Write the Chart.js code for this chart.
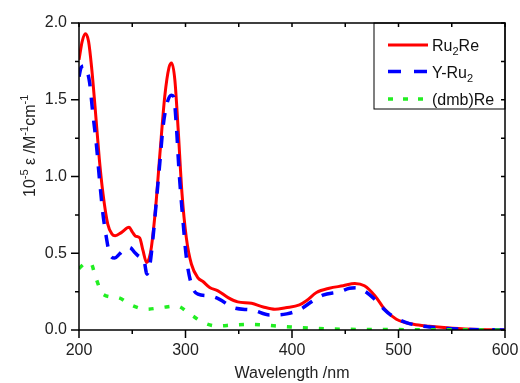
<!DOCTYPE html>
<html>
<head>
<meta charset="utf-8">
<script src="https://cdn.jsdelivr.net/npm/chart.js@4.4.0/dist/chart.umd.min.js"></script>
<style>
  html, body { margin: 0; padding: 0; background: #fff; }
  #chart { display: block; }
</style>
</head>
<body>
<canvas id="chart" width="520" height="383"></canvas>
<script>
// absorption spectra, values in 10^5 M-1 cm-1
var ru2reNm = [200, 203, 206, 209, 212, 215, 219, 222.5, 227, 231, 234, 240, 247, 250, 253, 257, 260, 263.5, 266, 268, 272, 276, 280.5, 284.5, 287, 290, 293, 296.7, 300.8, 305.5, 311.7, 316.4, 322.7, 330.5, 340, 349, 362, 373, 384, 394, 407, 413.5, 423, 435, 448, 459, 468, 478, 487, 498, 514, 529, 551, 576, 600];
var ru2reVal = [1.76, 1.88, 1.93, 1.88, 1.70, 1.46, 1.12, 0.89, 0.69, 0.625, 0.614, 0.636, 0.669, 0.64, 0.612, 0.600, 0.52, 0.44, 0.47, 0.54, 0.80, 1.15, 1.52, 1.71, 1.74, 1.63, 1.32, 0.89, 0.60, 0.43, 0.34, 0.316, 0.277, 0.255, 0.211, 0.183, 0.174, 0.15, 0.135, 0.145, 0.163, 0.19, 0.244, 0.272, 0.288, 0.303, 0.288, 0.222, 0.135, 0.07, 0.037, 0.024, 0.011, 0.003, 0.0];

var yru2Nm = [200, 202, 205, 207, 210, 213, 216.3, 219.4, 222.5, 225.7, 228.8, 233.5, 238, 243, 247.6, 252.3, 257, 260.8, 263.8, 266.4, 269.5, 272.7, 275.8, 278.9, 282.6, 286.8, 289, 291.5, 293.9, 297.1, 300.8, 305.5, 311.7, 322.7, 332, 344.6, 363.4, 379, 395, 407, 419.7, 429, 445, 454, 460, 467, 476, 485.5, 491.7, 507.4, 529, 560, 600];
var yru2Val = [1.65, 1.71, 1.72, 1.70, 1.61, 1.41, 1.21, 0.97, 0.756, 0.603, 0.495, 0.469, 0.495, 0.527, 0.538, 0.505, 0.477, 0.462, 0.364, 0.418, 0.603, 0.843, 1.083, 1.322, 1.475, 1.53, 1.518, 1.322, 1.04, 0.756, 0.473, 0.299, 0.233, 0.222, 0.2, 0.146, 0.129, 0.098, 0.105, 0.132, 0.19, 0.227, 0.25, 0.272, 0.275, 0.259, 0.211, 0.142, 0.103, 0.048, 0.02, 0.005, 0.0];

var dmbReNm = [200, 205, 211, 215.7, 222.5, 236.6, 249, 263, 277, 291.5, 304.6, 317, 330, 345, 360, 373, 385, 399, 415, 440, 480, 540, 600];
var dmbReVal = [0.40, 0.43, 0.435, 0.342, 0.233, 0.211, 0.163, 0.135, 0.146, 0.157, 0.102, 0.048, 0.026, 0.033, 0.037, 0.033, 0.026, 0.02, 0.013, 0.006, 0.003, 0.002, 0.0];

var seriesNames = ['Ru2Re', 'Y-Ru2', '(dmb)Re'];
var xTicks = [200, 300, 400, 500, 600];
var yTicks = [0, 0.5, 1.0, 1.5, 2.0];

function pairs(xs, ys) {
  return xs.map(function (x, i) { return { x: x, y: ys[i] }; });
}

var FONT = '"Liberation Sans", Arial, sans-serif';

// frame, tick marks, y title and legend box
var decorPlugin = {
  id: 'decor',
  afterDraw: function (chart) {
    var ctx = chart.ctx;
    var a = chart.chartArea;
    var xs = chart.scales.x, ys = chart.scales.y;
    ctx.save();
    ctx.strokeStyle = '#000';
    ctx.lineWidth = 1.5;
    ctx.strokeRect(a.left, a.top, a.right - a.left, a.bottom - a.top);

    ctx.beginPath();
    for (var v = 200; v <= 600; v += 50) {
      var px = xs.getPixelForValue(v);
      var len = (v % 100 === 0) ? 8 : 4;
      ctx.moveTo(px, a.bottom); ctx.lineTo(px, a.bottom + len);
      ctx.moveTo(px, a.top); ctx.lineTo(px, a.top + 4);
    }
    for (var w = 0; w <= 2.0001; w += 0.25) {
      var py = ys.getPixelForValue(w);
      var l2 = (Math.round(w * 100) % 50 === 0) ? 8 : 4;
      ctx.moveTo(a.left, py); ctx.lineTo(a.left - l2, py);
      ctx.moveTo(a.right, py); ctx.lineTo(a.right - 4, py);
    }
    ctx.stroke();

    // y title with superscripts
    ctx.fillStyle = '#222';
    ctx.translate(35, 197);
    ctx.rotate(-Math.PI / 2);
    ctx.textBaseline = 'alphabetic';
    var parts = [['10', 0], ['-5', 1], [' \u03b5 /M', 0], ['-1', 1], ['cm', 0], ['-1', 1]];
    var cx = 0;
    parts.forEach(function (p) {
      ctx.font = (p[1] ? '11px ' : '16px ') + FONT;
      ctx.fillText(p[0], cx, p[1] ? -7 : 0);
      cx += ctx.measureText(p[0]).width;
    });
    ctx.restore();

    // legend
    ctx.save();
    ctx.strokeStyle = '#000';
    ctx.lineWidth = 1;
    ctx.strokeRect(374, a.top, a.right - 374, 86);
    var rows = [a.top + 22, a.top + 48.5, a.top + 76];
    var labels = [[['Ru', 0], ['2', 1], ['Re', 0]], [['Y-Ru', 0], ['2', 1]], [['(dmb)Re', 0]]];
    chart.data.datasets.forEach(function (ds, i) {
      var y = rows[i];
      ctx.beginPath();
      ctx.strokeStyle = ds.borderColor;
      ctx.lineWidth = ds.borderWidth;
      ctx.setLineDash(i === 0 ? [] : (i === 1 ? [13, 13] : [5, 10]));
      ctx.moveTo(388, y); ctx.lineTo(428, y);
      ctx.stroke();
      ctx.setLineDash([]);
      ctx.fillStyle = '#111';
      var tx = 432;
      labels[i].forEach(function (p) {
        ctx.font = (p[1] ? '11px ' : '16px ') + FONT;
        ctx.fillText(p[0], tx, y + 6 + (p[1] ? 4 : 0));
        tx += ctx.measureText(p[0]).width;
      });
    });
    ctx.restore();
  }
};

var lineOpts = { pointRadius: 0, fill: false, tension: 0, cubicInterpolationMode: 'monotone' };

new Chart(document.getElementById('chart'), {
  type: 'line',
  data: {
    datasets: [
      Object.assign({ label: seriesNames[0], data: pairs(ru2reNm, ru2reVal), borderColor: '#ff0000', borderWidth: 3, order: 3 }, lineOpts),
      Object.assign({ label: seriesNames[1], data: pairs(yru2Nm, yru2Val), borderColor: '#0000ff', borderWidth: 3.5, borderDash: [12, 11], order: 2 }, lineOpts),
      Object.assign({ label: seriesNames[2], data: pairs(dmbReNm, dmbReVal), borderColor: '#22ee22', borderWidth: 3.5, borderDash: [5, 11], order: 1 }, lineOpts)
    ]
  },
  options: {
    responsive: false,
    animation: false,
    devicePixelRatio: 1,
    layout: { padding: { top: 23, right: 15, left: 0, bottom: 0 } },
    plugins: { legend: { display: false }, tooltip: { enabled: false } },
    scales: {
      x: {
        type: 'linear', min: 200, max: 600,
        afterBuildTicks: function (s) { s.ticks = xTicks.map(function (v) { return { value: v }; }); },
        ticks: { color: '#222', font: { size: 16, family: FONT }, padding: 11, maxRotation: 0,
                 callback: function (v) { return String(v); } },
        grid: { display: false, drawTicks: false },
        border: { display: false },
        title: { display: true, text: 'Wavelength /nm', color: '#222', font: { size: 16, family: FONT }, padding: { top: 0, bottom: 0 } },
        afterFit: function (s) { s.height = 53; s.paddingLeft = 0; s.paddingRight = 0; }
      },
      y: {
        type: 'linear', min: 0, max: 2,
        afterBuildTicks: function (s) { s.ticks = yTicks.map(function (v) { return { value: v }; }); },
        ticks: { color: '#222', font: { size: 16, family: FONT }, padding: 12,
                 callback: function (v) { return v.toFixed(1); } },
        grid: { display: false, drawTicks: false },
        border: { display: false },
        afterFit: function (s) { s.width = 79; s.paddingTop = 0; s.paddingBottom = 0; }
      }
    }
  },
  plugins: [decorPlugin]
});
</script>
</body>
</html>
